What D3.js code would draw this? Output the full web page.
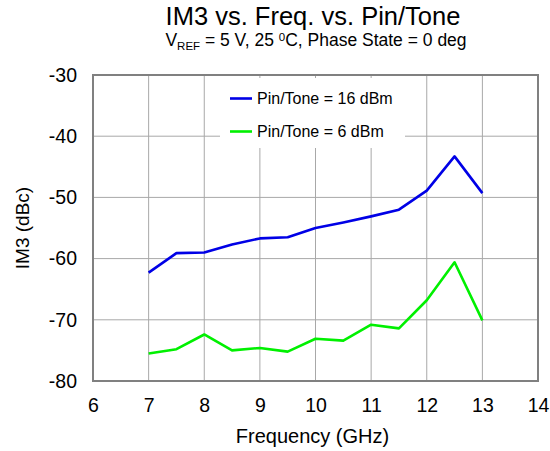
<!DOCTYPE html>
<html>
<head>
<meta charset="utf-8">
<script src="https://cdn.jsdelivr.net/npm/d3@7"></script>
<style>
  body { margin: 0; background: #fff; }
  text { font-family: "Liberation Sans", Arial, sans-serif; fill: #000; }
</style>
</head>
<body>
<svg class="im3-chart"></svg>
<script>
// frequency points (GHz)
var freqs = [7, 7.5, 8, 8.5, 9, 9.5, 10, 10.5, 11, 11.5, 12, 12.5, 13];
// IM3 (dBc) per Pin/Tone
var im3_16dBm = [-62.3, -59.1, -59.0, -57.7, -56.7, -56.5, -55.0, -54.1, -53.1, -52.0, -48.9, -43.3, -49.3];
var im3_6dBm = [-75.5, -74.8, -72.4, -75.0, -74.6, -75.2, -73.1, -73.4, -70.8, -71.4, -66.8, -60.6, -70.1];
var seriesNames = ["Pin/Tone = 16 dBm", "Pin/Tone = 6 dBm"];
var xTicks = [6, 7, 8, 9, 10, 11, 12, 13, 14];
var yTicks = [-30, -40, -50, -60, -70, -80];

var margin = {top: 75, right: 12, bottom: 70, left: 93};
var width = 550 - margin.left - margin.right;
var height = 451 - margin.top - margin.bottom;

var svg = d3.select(".im3-chart")
  .attr("width", 550)
  .attr("height", 451);

var chart = svg.append("g")
  .attr("transform", "translate(" + margin.left + "," + margin.top + ")");

var x = d3.scaleLinear().domain([6, 14]).range([0, width]);
var y = d3.scaleLinear().domain([-80, -30]).range([height, 0]);

// grid
chart.append("g")
  .selectAll("line.vgrid")
  .data(xTicks.slice(1, -1))
  .enter().append("line")
  .attr("x1", function(d) { return x(d); })
  .attr("x2", function(d) { return x(d); })
  .attr("y1", 0)
  .attr("y2", height)
  .style("stroke", "#a8a8a8")
  .style("stroke-width", 1);

chart.append("g")
  .selectAll("line.hgrid")
  .data(yTicks.slice(1, -1))
  .enter().append("line")
  .attr("x1", 0)
  .attr("x2", width)
  .attr("y1", function(d) { return y(d); })
  .attr("y2", function(d) { return y(d); })
  .style("stroke", "#a8a8a8")
  .style("stroke-width", 1);

// frame
chart.append("rect")
  .attr("x", 0)
  .attr("y", 0)
  .attr("width", width)
  .attr("height", height)
  .style("fill", "none")
  .style("stroke", "#808080")
  .style("stroke-width", 2);

// axes (labels only), plain hyphen for negatives
var fmt = function(d) { return String(d); };
var xAxis = d3.axisBottom(x).tickValues(xTicks).tickFormat(fmt).tickSize(0).tickPadding(17);
var yAxis = d3.axisLeft(y).tickValues(yTicks).tickFormat(fmt).tickSize(0).tickPadding(16);

var gx = chart.append("g")
  .attr("transform", "translate(0," + height + ")")
  .call(xAxis);
var gy = chart.append("g").call(yAxis);
[gx, gy].forEach(function(g) {
  g.select(".domain").remove();
  g.selectAll("text")
    .style("font-size", "19.5px")
    .style("font-family", "Liberation Sans, Arial, sans-serif");
});

// legend box (white, covers grid)
chart.append("rect")
  .attr("x", 220 - margin.left)
  .attr("y", 3)
  .attr("width", 185)
  .attr("height", 70)
  .style("fill", "#fff");

var colors = ["#0000e6", "#00f000"];
var seriesData = [im3_16dBm, im3_6dBm];

var line = d3.line()
  .x(function(d) { return x(d[0]); })
  .y(function(d) { return y(d[1]); });

seriesData.forEach(function(vals, i) {
  chart.append("path")
    .datum(freqs.map(function(f, j) { return [f, vals[j]]; }))
    .attr("d", line)
    .style("fill", "none")
    .style("stroke", colors[i])
    .style("stroke-width", 2.6)
    .style("stroke-linejoin", "round");
});

var legend = chart.append("g")
  .attr("transform", "translate(" + (230 - margin.left) + ",0)");
seriesNames.forEach(function(name, i) {
  var ly = 23.5 + i * 33;
  legend.append("line")
    .attr("x1", 0).attr("x2", 22)
    .attr("y1", ly).attr("y2", ly)
    .style("stroke", colors[i])
    .style("stroke-width", 2.6);
  legend.append("text")
    .attr("x", 27)
    .attr("y", ly)
    .attr("dy", "0.35em")
    .style("font-size", "16px")
    .text(name);
});

// axis titles
chart.append("text")
  .attr("x", (233 + 392) / 2 - margin.left)
  .attr("y", height + 62)
  .attr("text-anchor", "middle")
  .style("font-size", "20px")
  .text("Frequency (GHz)");

chart.append("text")
  .attr("transform", "rotate(-90)")
  .attr("x", -(y(-55)))
  .attr("y", -71)
  .attr("dy", "0.35em")
  .attr("text-anchor", "middle")
  .style("font-size", "19px")
  .text("IM3 (dBc)");

// title
svg.append("text")
  .attr("x", 313)
  .attr("y", 24.5)
  .attr("text-anchor", "middle")
  .style("font-size", "25.5px")
  .text("IM3 vs. Freq. vs. Pin/Tone");

var sub = svg.append("text")
  .attr("x", 316)
  .attr("y", 45.5)
  .attr("text-anchor", "middle")
  .style("font-size", "17.5px");
sub.append("tspan").text("V");
sub.append("tspan").attr("dy", 4).style("font-size", "11.5px").text("REF");
sub.append("tspan").attr("dy", -4).text(" = 5 V, 25 ");
sub.append("tspan").attr("dy", -5).style("font-size", "11.5px").text("0");
sub.append("tspan").attr("dy", 5).text("C, Phase State = 0 deg");
</script>
</body>
</html>
